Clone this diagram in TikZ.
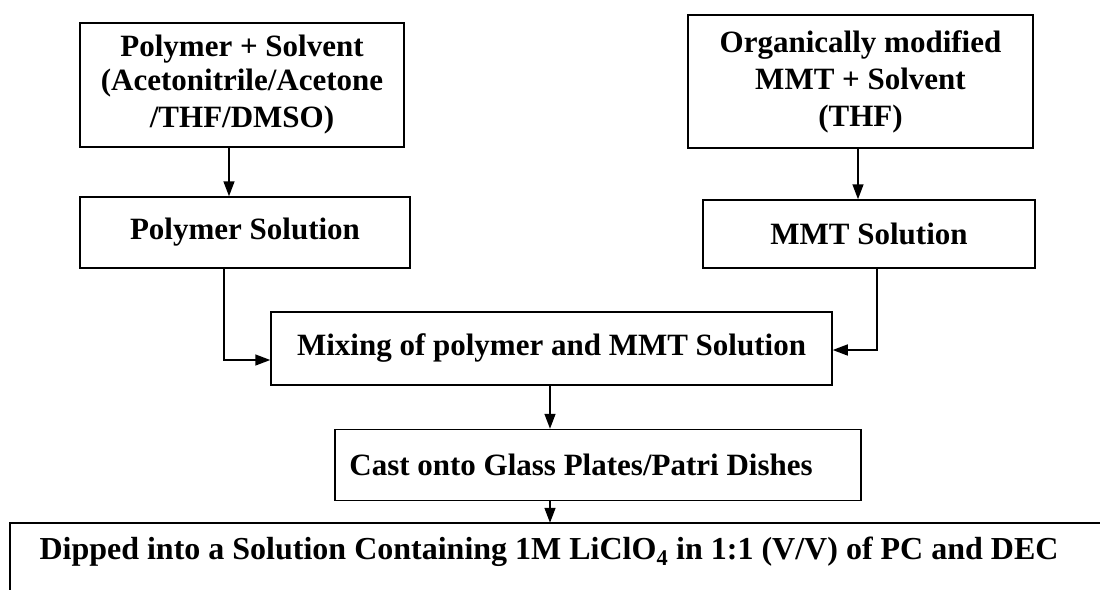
\documentclass[tikz,border=0pt]{standalone}
\usepackage{fontspec}
\setmainfont{Liberation Serif}
\usetikzlibrary{arrows.meta}
\tikzset{
  stepbox/.style={draw, line width=1.5pt, align=center, inner sep=0pt,
    font=\bfseries\fontsize{31}{37}\selectfont},
  arr/.style={line width=1.5pt, -{Triangle[length=15pt,width=11pt]}},
  ln/.style={line width=1.5pt}
}
\begin{document}
\begin{tikzpicture}[x=1pt,y=-1pt]
\useasboundingbox (0,0) rectangle (1100,589);
\clip (0,0) rectangle (1100,589);
\node[stepbox, minimum width=324, minimum height=124] (p1) at (242,85)
  {\raisebox{-3pt}{Polymer + Solvent}\\(Acetonitrile/Acetone\\/THF/DMSO)};
\node[stepbox, minimum width=330, minimum height=71] (p2) at (245,232.5)
  {Polymer Solution};
\node[stepbox, minimum width=345, minimum height=133] (m1) at (860.5,81.5)
  {Organically modified\\MMT + Solvent\\(THF)};
\node[stepbox, minimum width=332, minimum height=68] (m2) at (869,234)
  {MMT Solution};
\node[stepbox, minimum width=561, minimum height=73] (mix) at (551.5,348.5)
  {Mixing of polymer and MMT Solution};
\node[stepbox, minimum width=526, minimum height=71] (cast) at (598,465)
  {Cast onto Glass Plates/Patri Dishes\hspace*{34pt}};
\node[minimum width=1100, minimum height=60, inner sep=0pt] (dip) at (560,553) {};
\node[font=\bfseries\fontsize{32}{37}\selectfont, inner sep=0pt] (diptext) at (549,552)
  {Dipped into a Solution Containing 1M LiClO\textsubscript{4} in 1:1 (V/V) of PC and DEC};
\draw[ln] ([yshift=-80]dip.north west) -- (dip.north west) -- (dip.north east);
\draw[arr] (p1.south -| 229,0) -- (p2.north -| 229,0);
\draw[arr] (m1.south -| 858,0) -- (m2.north -| 858,0);
\draw[arr] (p2.south -| 224,0) |- (mix.west |- 0,360);
\draw[arr] (m2.south -| 877,0) |- (mix.east |- 0,350);
\draw[arr] (mix.south -| 550,0) -- (cast.north -| 550,0);
\draw[arr] (cast.south -| 550,0) -- (dip.north -| 550,0);
\end{tikzpicture}
\end{document}
